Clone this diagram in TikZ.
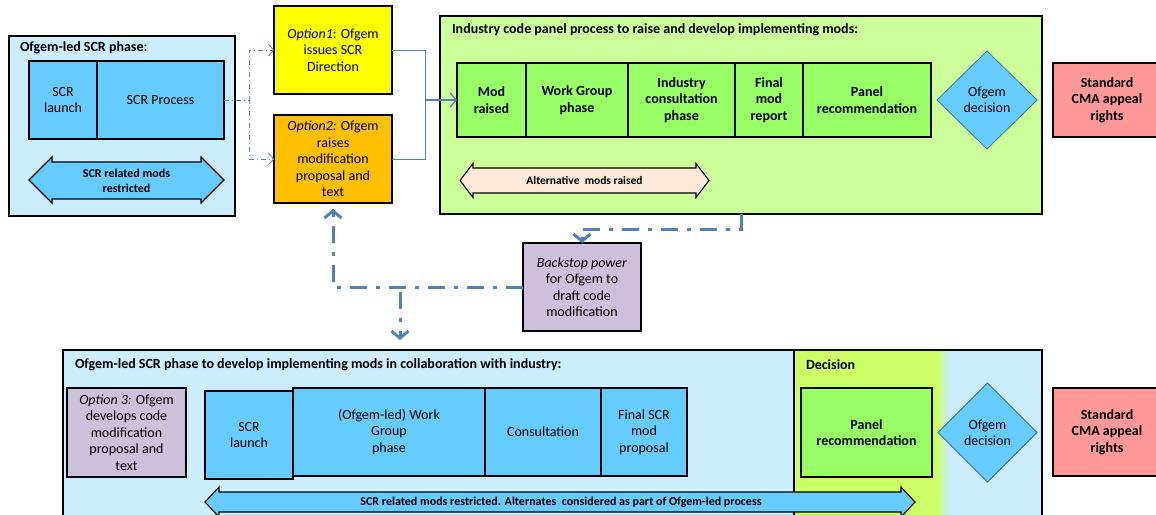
\documentclass[tikz,border=0pt]{standalone}
\usepackage{fontspec}
\setmainfont{Carlito}
\usepackage{tikz}
\usetikzlibrary{calc,shapes,arrows.meta,positioning}
\definecolor{paleblue}{RGB}{204,236,255}
\definecolor{skyblue}{RGB}{102,204,255}
\definecolor{palegreen}{RGB}{204,255,153}
\definecolor{boxgreen}{RGB}{153,255,102}
\definecolor{decgreen}{RGB}{204,255,102}
\definecolor{optyellow}{RGB}{255,255,0}
\definecolor{optorange}{RGB}{255,192,0}
\definecolor{lavender}{RGB}{204,192,218}
\definecolor{salmon}{RGB}{255,153,153}
\definecolor{peach}{RGB}{253,233,217}
\definecolor{linkblue}{RGB}{79,129,189}
\definecolor{edgeblue}{RGB}{65,113,156}

\begin{document}
\begin{tikzpicture}[x=1pt,y=-1pt,
		every node/.style={font=\fontsize{14}{16.5}\selectfont, align=center, inner sep=0pt, outer sep=0pt},
		area/.style={draw=black, line width=1.1pt, anchor=north west},
		box/.style={draw=black, line width=1.1pt, rectangle, anchor=north west},
		bluebox/.style={box, fill=skyblue},
		greenbox/.style={box, fill=boxgreen, font=\fontsize{14}{16.5}\selectfont\bfseries},
		decide/.style={diamond, draw=edgeblue, line width=0.8pt, fill=skyblue, minimum width=100, minimum height=98},
		boxtitle/.style={anchor=west, font=\fontsize{14}{16}\selectfont\bfseries},
		arrowtext/.style={font=\fontsize{12}{15}\selectfont\bfseries},
		thinlink/.style={draw=linkblue, line width=0.8pt},
		thindash/.style={thinlink, dash pattern=on 5pt off 3pt on 1pt off 3pt},
		bigdash/.style={draw=linkblue, line width=3pt, dash pattern=on 17pt off 9pt on 4pt off 9pt}]
	\useasboundingbox (0,0) rectangle (1156,514);
	
	% Ofgem-led SCR phase
	\node[area, fill=paleblue, minimum width=226, minimum height=180] (scrarea) at (9,36) {};
	\node[boxtitle] (scrtitle) at (20,48) {Ofgem-led SCR phase:};
	\node[bluebox, minimum width=68, minimum height=78] (scrl) at (29,61) {SCR\\launch};
	\node[bluebox, minimum width=127, minimum height=78, right=0pt of scrl] (scrp) {SCR Process};
	\draw[line width=1.1pt, fill=skyblue] (29,180) -- (52,157) -- (52,162) -- (201,162) -- (201,157)
	-- (224,180) -- (201,203) -- (201,199) -- (52,199) -- (52,203) -- cycle;
	\node[arrowtext] (scrrestr) at (126.5,180.5) {SCR related mods\\restricted};
	
	% options
	\node[box, fill=optyellow, minimum width=118, minimum height=88] (opt1) at (274,6)
	{\textit{Option1}: Ofgem\\issues SCR\\Direction};
	\node[box, fill=optorange, minimum width=118, minimum height=88] (opt2) at (274,115)
	{\textit{Option2:} Ofgem\\raises\\modification\\proposal and\\text};
	
	% industry code panel process
	\node[area, fill=palegreen, minimum width=602, minimum height=198] (ind) at (440,16) {};
	\node[boxtitle] (indtitle) at (452,30) {Industry code panel process to raise and develop implementing mods:};
	\node[greenbox, minimum width=69, minimum height=74] (modr) at (457,63) {Mod\\raised};
	\node[greenbox, minimum width=102, minimum height=74, right=0pt of modr] (wg) {Work Group\\phase};
	\node[greenbox, minimum width=107, minimum height=74, right=0pt of wg] (cons) {Industry\\consultation\\phase};
	\node[greenbox, minimum width=68, minimum height=74, right=0pt of cons] (fin) {Final\\mod\\report};
	\node[greenbox, minimum width=128, minimum height=74, right=0pt of fin] (pan) {Panel\\recommendation};
	\node[decide] (dec) at (987,100) {Ofgem\\decision};
	\draw[line width=1.1pt, fill=peach] (460,180.5) -- (473,163.5) -- (473,168) -- (696,168) -- (696,163.5)
	-- (709,180.5) -- (696,197.5) -- (696,193) -- (473,193) -- (473,197.5) -- cycle;
	\node[arrowtext, font=\fontsize{11.5}{14}\selectfont\bfseries] (altmods) at (584.5,180.5) {Alternative\ \ mods raised};
	\node[box, fill=salmon, font=\fontsize{14}{16.5}\selectfont\bfseries, minimum width=108, minimum height=74] (cma) at (1053,63)
	{Standard\\CMA appeal\\rights};
	
	% backstop
	\node[box, fill=lavender, minimum width=118, minimum height=88] (back) at (523,243)
	{\textit{Backstop power}\\for Ofgem to\\draft code\\modification};
	
	% Ofgem-led SCR phase with industry
	\node[area, draw=none, fill=paleblue, minimum width=979, minimum height=170] (colarea) at (63,350) {};
	\fill[decgreen] (794,350) rectangle (937,520);
	\shade[left color=decgreen, right color=paleblue] (937,350) rectangle (949,520);
	\draw[line width=1.1pt] (63,520) |- (1042,350) -- (1042,520);
	\draw[line width=1.1pt] (794,350) -- (794,520);
	\node[boxtitle] (coltitle) at (75,365) {Ofgem-led SCR phase to develop implementing mods in collaboration with industry:};
	\node[boxtitle] (dectitle) at (806,365) {Decision};
	\node[box, fill=lavender, minimum width=119, minimum height=89] (opt3) at (67,388)
	{\textit{Option 3:} Ofgem\\develops code\\modification\\proposal and\\text};
	\node[bluebox, minimum width=88, minimum height=88] (scrl2) at (205,391) {SCR\\launch};
	\node[bluebox, minimum width=192, minimum height=88] (wg2) at (293,388) {(Ofgem-led) Work\\Group\\phase};
	\node[bluebox, minimum width=116, minimum height=88, right=0pt of wg2] (cons2) {Consultation};
	\node[bluebox, minimum width=86, minimum height=88, right=0pt of cons2] (fin2) {Final SCR\\mod\\proposal};
	\draw[line width=1.1pt, fill=skyblue] (205,502) -- (219,487) -- (219,492) -- (901,492) -- (901,487)
	-- (915,502) -- (901,517) -- (901,512) -- (219,512) -- (219,517) -- cycle;
	\node[arrowtext] (altcons) at (561,502) {SCR related mods restricted. Alternates\ \ considered as part of Ofgem-led process};
	\node[greenbox, minimum width=131, minimum height=89] (pan2) at (801,388) {Panel\\recommendation};
	\node[decide, minimum width=99, minimum height=99] (dec2) at (987.5,432.5) {Ofgem\\decision};
	\node[box, fill=salmon, font=\fontsize{14}{16.5}\selectfont\bfseries, minimum width=108, minimum height=88] (cma2) at (1053,388)
	{Standard\\CMA appeal\\rights};
	
	% connectors
	\draw[thindash, -{Straight Barb[length=5pt,width=12pt]}] (scrp.east) -- ++(25,0) |- (opt1.west);
	\draw[thindash, -{Straight Barb[length=5pt,width=12pt]}] (scrp.east) -- ++(25,0) |- (opt2.west);
	\coordinate (join) at (425,100);
	\draw[thinlink] (opt1.east) -| (join);
	\draw[thinlink] (opt2.east) -| (join);
	\draw[thinlink, line width=1.2pt, -{Straight Barb[length=6pt,width=14pt]}] (join) -- (modr.west);
	\draw[bigdash, -{Straight Barb[length=7pt,width=17pt]}] (ind.south) -- ++(0,15) -| (back.north);
	\draw[bigdash, -{Straight Barb[length=7pt,width=17pt]}, shorten >=6pt] (back.west) -| (opt2.south);
	\coordinate (split) at (400,292);
	\draw[bigdash, -{Straight Barb[length=7pt,width=17pt]}, shorten >=10pt] (split) -- (split |- colarea.north);
\end{tikzpicture}
\end{document}
